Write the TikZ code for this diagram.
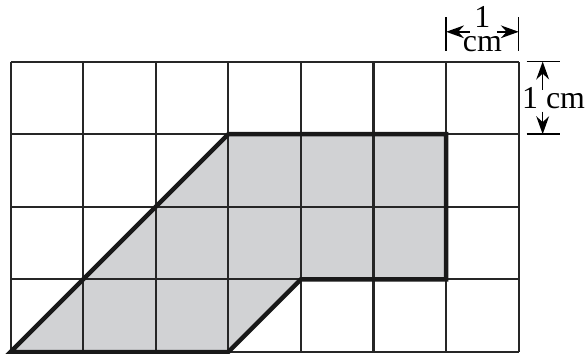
\documentclass[tikz,border=0pt]{standalone}
\usepackage{fontspec}
\setmainfont{Liberation Serif}
\usetikzlibrary{arrows.meta,positioning}

\definecolor{shadegray}{RGB}{209,210,212}

\begin{document}
\begin{tikzpicture}[
    gridline/.style={line width=0.8pt, black!85},
    outline/.style={line width=1.7pt, black!90, line join=miter},
    dimline/.style={line width=0.6pt, -{Stealth[length=7pt,width=5pt]}},
    ticks/.style={line width=0.6pt},
    lbl/.style={font=\fontsize{12.5}{9.1}\selectfont, inner sep=0pt}
  ]
    \useasboundingbox (-0.145,-0.028) rectangle (7.927,4.848);

    % Shaded shape
    \fill[shadegray] (0,0) -- (3,3) -- (6,3) -- (6,1) -- (4,1) -- (3,0) -- cycle;

    % Grid
    \draw[gridline] (0,0) grid (7,4);

    % Outline of the shape
    \draw[outline] (0,0) -- (3,3) -- (6,3) -- (6,1) -- (4,1) -- (3,0) -- cycle;

    % Width of one cell
    \draw[ticks] (6,4.15) -- (6,4.61);
    \draw[ticks] (7,4.15) -- (7,4.61);
    \coordinate (wl) at (6.33,4.41);
    \coordinate (wr) at (6.70,4.41);
    \draw[dimline] (wl) -- (6,4.41);
    \draw[dimline] (wr) -- (7,4.41);
    \node[lbl, align=center, anchor=north] (wlabel) at (6.5,4.76) {1\\cm};

    % Height of one cell
    \draw[ticks] (7.11,4) -- (7.57,4);
    \draw[ticks] (7.11,3) -- (7.57,3);
    \coordinate (hu) at (7.33,3.61);
    \coordinate (hd) at (7.33,3.31);
    \draw[dimline] (hu) -- (7.33,4);
    \draw[dimline] (hd) -- (7.33,3);
    \node[lbl, anchor=base] (hlabel) at (7.48,3.36) {1 cm};
\end{tikzpicture}
\end{document}
